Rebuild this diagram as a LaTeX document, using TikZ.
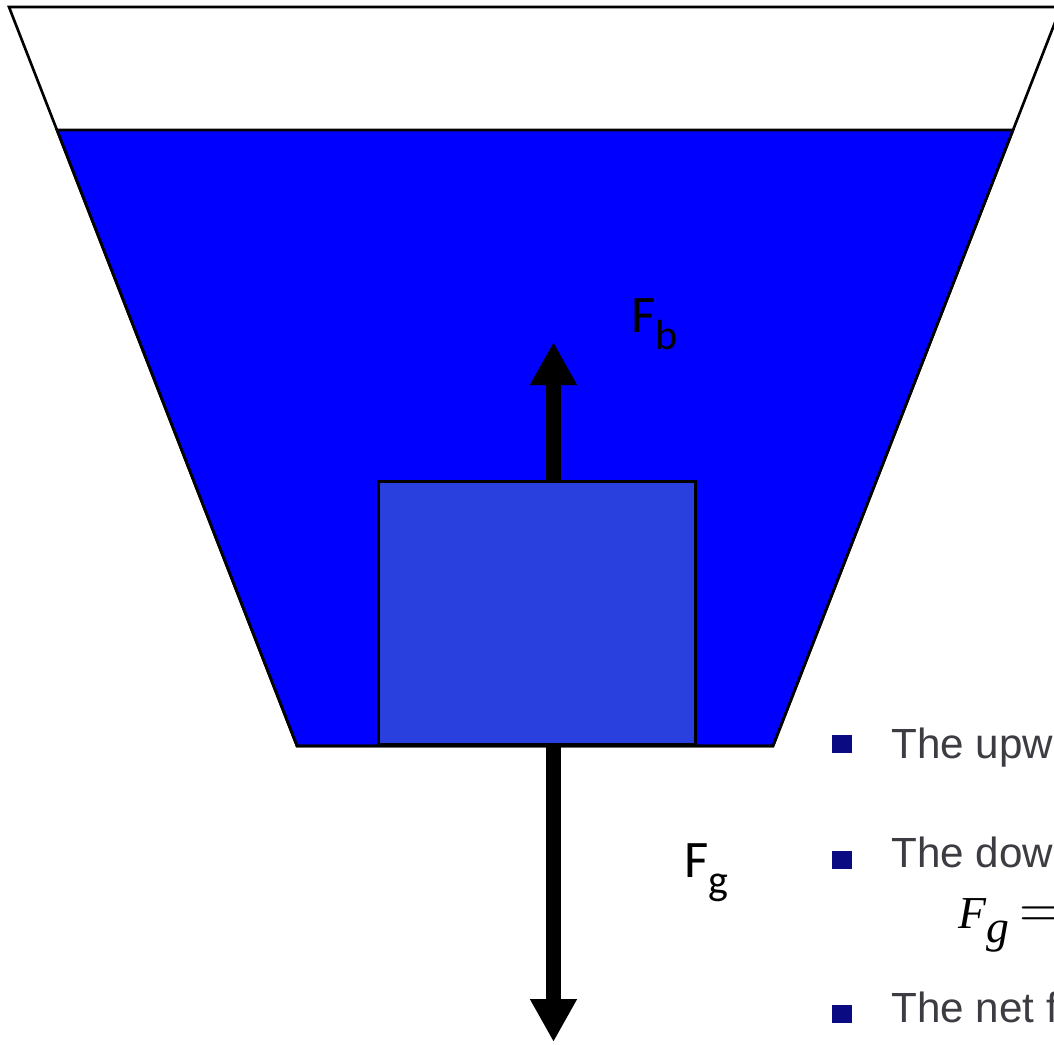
\documentclass[tikz,border=0pt]{standalone}
\usepackage{fontspec}
\setmainfont{Liberation Sans}
\newfontfamily\labelfont{Carlito}
\newfontfamily\timesfont{Liberation Serif}
\usepackage{tikz}
\usetikzlibrary{arrows.meta,calc,positioning}

\definecolor{water}{RGB}{0,0,255}
\definecolor{blockblue}{RGB}{42,64,222}
\definecolor{slidegray}{RGB}{60,60,66}
\definecolor{slidenavy}{RGB}{10,10,130}

\newcommand{\lowsub}[1]{\raisebox{-5pt}{\fontsize{12}{12}\selectfont #1}}

\tikzset{
  force/.style={line width=0.15cm,-{Triangle[width=0.44cm,length=0.43cm]}},
  forcelabel/.style={font=\labelfont\fontsize{15}{18}\selectfont,anchor=base west,inner sep=0pt},
  bullettext/.style={font=\fontsize{12}{14}\selectfont,text=slidegray,anchor=base west,inner sep=0pt},
  bulletmark/.style={fill=slidenavy,minimum width=0.2cm,minimum height=0.18cm,inner sep=0pt},
}

\begin{document}
\begin{tikzpicture}[line width=0.75pt]
  \useasboundingbox (0,0) rectangle (10.54,10.44);
  \clip (0,0) rectangle (10.54,10.44);
  \begin{scope}
    \filldraw[fill=water,draw=black] (0.57,9.14) -- (10.13,9.14) -- (7.73,2.98) -- (2.97,2.98) -- cycle;
    \draw (0.09,10.37) -- (10.61,10.37) -- (7.73,2.98) -- (2.97,2.98) -- cycle;
    \node[draw=black,fill=blockblue,minimum width=3.17cm,minimum height=2.63cm,inner sep=0pt,anchor=south west] (block) at (3.77,2.98) {};
    \coordinate (tipup) at (5.535,7.02);
    \coordinate (tipdown) at (5.535,0.02);
    \draw[force] (block.north -| tipup) -- (tipup);
    \draw[force] (block.south -| tipup) -- (tipdown);
    \node[forcelabel] (fb) at (6.30,7.12) {F\lowsub{b}};
    \node[forcelabel] (fg) at (6.83,1.67) {F\lowsub{g}};
  \end{scope}
  \begin{scope}
    \node[bulletmark] (bup) at (8.42,3.00) {};
    \node[bulletmark] (bdown) at (8.42,1.84) {};
    \node[bulletmark] (bnet) at (8.42,0.30) {};
    \node[bullettext] (upw) at (8.90,2.86) {The upw};
    \node[bullettext] (dow) at (8.90,1.77) {The dow};
    \node[bullettext] (net) at (8.90,0.22) {The net f};
    \node[anchor=base west,inner sep=0pt,font=\timesfont\fontsize{13}{15}\selectfont] (fgeq) at (9.57,1.16) {\itshape F\raisebox{-4pt}{g}\hspace{3pt}{\fontsize{16}{16}\selectfont$=$}};
  \end{scope}
\end{tikzpicture}
\end{document}
